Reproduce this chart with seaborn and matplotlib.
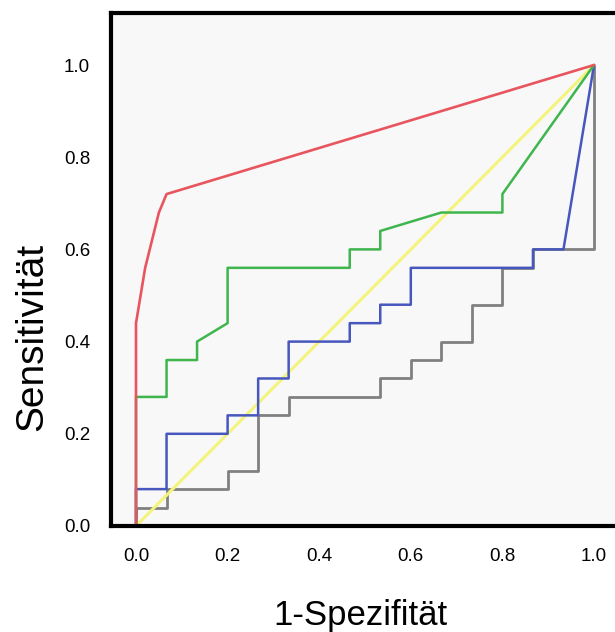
import matplotlib
matplotlib.use("Agg")
import matplotlib.pyplot as plt
import seaborn as sns
import pandas as pd

# ROC curve vertices (1-specificity, sensitivity)
red_x = [0.0, 0.0, 0.02, 0.05, 0.0667, 1.0]
red_y = [0.0, 0.44, 0.56, 0.68, 0.72, 1.0]

green_x = [0.0, 0.0, 0.0667, 0.0667, 0.1333, 0.1333, 0.2, 0.2, 0.4667, 0.4667,
           0.5333, 0.5333, 0.6667, 0.8, 0.8, 1.0]
green_y = [0.0, 0.28, 0.28, 0.36, 0.36, 0.40, 0.44, 0.56, 0.56, 0.60,
           0.60, 0.64, 0.68, 0.68, 0.72, 1.0]

blue_x = [0.0, 0.0, 0.0667, 0.0667, 0.2, 0.2, 0.2667, 0.2667, 0.3333, 0.3333,
          0.4667, 0.4667, 0.5333, 0.5333, 0.6, 0.6, 0.8667, 0.8667, 0.9333, 1.0]
blue_y = [0.0, 0.08, 0.08, 0.20, 0.20, 0.24, 0.24, 0.32, 0.32, 0.40,
          0.40, 0.44, 0.44, 0.48, 0.48, 0.56, 0.56, 0.60, 0.60, 1.0]

gray_x = [0.0, 0.0, 0.0667, 0.0667, 0.2, 0.2, 0.2667, 0.2667, 0.3333, 0.3333,
          0.5333, 0.5333, 0.6, 0.6, 0.6667, 0.6667, 0.7333, 0.7333, 0.8, 0.8,
          0.8667, 0.8667, 1.0, 1.0]
gray_y = [0.0, 0.04, 0.04, 0.08, 0.08, 0.12, 0.12, 0.24, 0.24, 0.28,
          0.28, 0.32, 0.32, 0.36, 0.36, 0.40, 0.40, 0.48, 0.48, 0.56,
          0.56, 0.60, 0.60, 1.0]

ref_x = [0.0, 1.0]
ref_y = [0.0, 1.0]

x_ticks = [0.0, 0.2, 0.4, 0.6, 0.8, 1.0]
y_ticks = [0.0, 0.2, 0.4, 0.6, 0.8, 1.0]
x_label = "1-Spezifität"
y_label = "Sensitivität"

curves = [
    ("gray", gray_x, gray_y, "#808080", 2.0),
    ("ref", ref_x, ref_y, "#f4f47c", 2.2),
    ("blue", blue_x, blue_y, "#4757bd", 1.8),
    ("green", green_x, green_y, "#3fb54d", 1.8),
    ("red", red_x, red_y, "#e8555f", 1.9),
]

sns.set_style("white")
plt.rcParams["font.family"] = ["Liberation Sans", "DejaVu Sans"]
plt.rcParams["text.color"] = "black"
plt.rcParams["xtick.labelcolor"] = "black"
plt.rcParams["ytick.labelcolor"] = "black"
plt.rcParams["axes.labelcolor"] = "black"

fig = plt.figure(figsize=(6.15, 6.32), dpi=100)
W, H = 615, 632
left_px, right_px, top_px, bottom_px = 111, 628, 13, 526
ax = fig.add_axes([left_px / W, (H - bottom_px) / H,
                   (right_px - left_px) / W, (bottom_px - top_px) / H])
ax.set_facecolor("#f8f8f8")

for name, xs, ys, col, lw in curves:
    df = pd.DataFrame({"x": xs, "y": ys})
    sns.lineplot(data=df, x="x", y="y", sort=False, estimator=None,
                 color=col, linewidth=lw, ax=ax, clip_on=False)

# axis scale: 0 at px 136, 1 at px 594 ; y: 0 at 526, 1 at 65
x0, x1 = 136, 594
ax.set_xlim((left_px - x0) / (x1 - x0), (right_px - x0) / (x1 - x0))
ax.set_ylim(0, (526 - top_px) / 461)

ax.set_xticks(x_ticks)
ax.set_yticks(y_ticks)
ax.set_xticklabels([f"{v:.1f}" for v in x_ticks], fontsize=13.5)
ax.set_yticklabels([f"{v:.1f}" for v in y_ticks], fontsize=13.5)
ax.tick_params(axis="both", direction="out", length=5, width=2,
               color="#666666")
ax.tick_params(axis="x", pad=11)
ax.tick_params(axis="y", pad=10)

for s in ["left", "top", "bottom", "right"]:
    ax.spines[s].set_linewidth(3)
    ax.spines[s].set_color("black")

ax.set_xlabel(x_label, fontsize=25)
ax.set_ylabel(y_label, fontsize=28)
ax.xaxis.set_label_coords((360 - left_px) / (right_px - left_px),
                          (bottom_px - 599) / (bottom_px - top_px))
ax.yaxis.set_label_coords((50 - left_px) / (right_px - left_px),
                          (bottom_px - 336.5) / (bottom_px - top_px))

fig.savefig("out.png", dpi=100)
